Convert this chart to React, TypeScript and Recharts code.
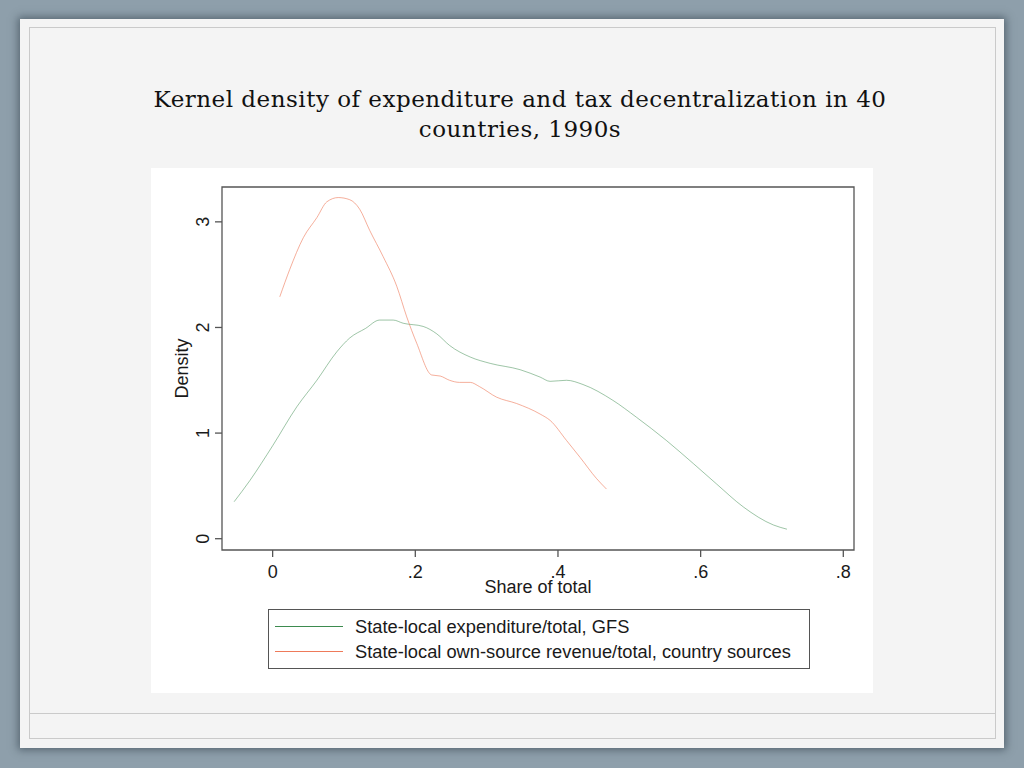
import React from 'react';
import { LineChart, Line, XAxis, YAxis, ReferenceArea, Legend } from 'recharts';

// kernel density estimates
const expX = [-0.054, -0.032, 0.0, 0.034, 0.062, 0.09, 0.108, 0.13, 0.15, 0.169, 0.183, 0.211, 0.23, 0.248, 0.277, 0.305, 0.347, 0.375, 0.389, 0.412, 0.435, 0.477, 0.51, 0.552, 0.59, 0.622, 0.66, 0.702, 0.721];
const expY = [0.35, 0.55, 0.88, 1.25, 1.5, 1.77, 1.9, 1.99, 2.07, 2.07, 2.04, 2.01, 1.94, 1.83, 1.72, 1.66, 1.6, 1.53, 1.49, 1.5, 1.46, 1.31, 1.15, 0.93, 0.71, 0.52, 0.3, 0.13, 0.09];

const revX = [0.01, 0.024, 0.043, 0.062, 0.076, 0.092, 0.108, 0.122, 0.136, 0.155, 0.174, 0.188, 0.202, 0.223, 0.235, 0.248, 0.262, 0.277, 0.29, 0.314, 0.342, 0.375, 0.389, 0.412, 0.431, 0.454, 0.468];
const revY = [2.29, 2.55, 2.85, 3.04, 3.19, 3.23, 3.21, 3.12, 2.92, 2.67, 2.39, 2.1, 1.85, 1.55, 1.54, 1.5, 1.48, 1.48, 1.44, 1.34, 1.28, 1.18, 1.12, 0.93, 0.77, 0.57, 0.47];

const xTicks = [0, 0.2, 0.4, 0.6, 0.8];
const yTicks = [0, 1, 2, 3];

const seriesNames = ['State-local expenditure/total, GFS', 'State-local own-source revenue/total, country sources'];
const COLORS = ['#3d8b4f', '#ee7a5a'];

const X_DOMAIN: [number, number] = [-0.071, 0.815];
const Y_DOMAIN: [number, number] = [-0.107, 3.33];

const SANS = '"Liberation Sans", Arial, sans-serif';
const INK = '#1a1a1a';

const expData = expX.map((x, i) => ({ x, y: expY[i] }));
const revData = revX.map((x, i) => ({ x, y: revY[i] }));

const fmtX = (v: number) => (v === 0 ? '0' : String(v).replace(/^0/, ''));

const YTick = ({ x, y, payload }: any) => (
    <text x={0} y={0} transform={`translate(${x - 6.5},${y}) rotate(-90)`} textAnchor="middle" fontSize={18} fontFamily={SANS} fill={INK}>
        {payload.value}
    </text>
);

const XTitle = ({ viewBox }: any) => (
    <text x={viewBox.x + viewBox.width / 2} y={425} textAnchor="middle" fontSize={18} fontFamily={SANS} fill={INK}>
        Share of total
    </text>
);

const YTitle = ({ viewBox }: any) => (
    <text x={0} y={0} transform={`translate(37,${viewBox.y + viewBox.height / 2}) rotate(-90)`} textAnchor="middle" fontSize={18} fontFamily={SANS} fill={INK}>
        Density
    </text>
);

const LegendBox = () => (
    <div style={{ position: 'relative', width: 542, height: 60, boxSizing: 'border-box', border: '1px solid #555', background: '#fff', fontFamily: SANS, fontSize: 18.3, color: INK }}>
        {seriesNames.map((name, i) => (
            <div key={name} style={{ position: 'absolute', left: 0, top: i === 0 ? 4 : 29, height: 25, width: '100%' }}>
                <svg width={70} height={25} style={{ position: 'absolute', left: 6, top: 0 }}>
                    <line x1={0} x2={68} y1={12.5} y2={12.5} stroke={COLORS[i]} strokeWidth={1.2} />
                </svg>
                <span style={{ position: 'absolute', left: 86, top: 0, lineHeight: '25px', whiteSpace: 'nowrap' }}>{name}</span>
            </div>
        ))}
    </div>
);

const App: React.FC = () => {
    return (
        <div style={{ position: 'absolute', left: 0, top: 0, width: 1024, height: 768, background: '#8e9fab', overflow: 'hidden' }}>
            <div style={{ position: 'absolute', left: 20, top: 19, width: 984, height: 729, background: '#f4f4f4', boxShadow: '0 0 8px 2px rgba(40,55,65,0.55)' }} />
            <div style={{ position: 'absolute', left: 29, top: 27, width: 965, height: 710, border: '1px solid #cacaca' }} />
            <div style={{ position: 'absolute', left: 29, top: 713, width: 967, height: 1, background: '#cacaca' }} />
            <div style={{ position: 'absolute', left: 120, top: 83.5, width: 800, textAlign: 'center', fontFamily: '"DejaVu Serif", serif', fontSize: 23, letterSpacing: 0.5, lineHeight: '30.6px', color: '#111' }}>
                Kernel density of expenditure and tax decentralization in 40
                <br />
                countries, 1990s
            </div>
            <div style={{ position: 'absolute', left: 151, top: 168, width: 722, height: 525, background: '#fff' }}>
                <LineChart width={722} height={525} margin={{ top: 19, right: 19, left: 0, bottom: 0 }}>
                    <XAxis
                        type="number"
                        dataKey="x"
                        domain={X_DOMAIN}
                        ticks={xTicks}
                        allowDataOverflow
                        height={143}
                        axisLine={false}
                        tickSize={7}
                        tickMargin={8}
                        tickLine={{ stroke: '#555', strokeWidth: 1.3 }}
                        tickFormatter={fmtX}
                        tick={{ fontSize: 18, fontFamily: SANS, fill: INK }}
                        label={<XTitle />}
                    />
                    <YAxis
                        type="number"
                        domain={Y_DOMAIN}
                        ticks={yTicks}
                        allowDataOverflow
                        width={71}
                        axisLine={false}
                        tickSize={7}
                        tickMargin={0}
                        tickLine={{ stroke: '#555', strokeWidth: 1.3 }}
                        tick={<YTick />}
                        label={<YTitle />}
                    />
                    <ReferenceArea x1={X_DOMAIN[0]} x2={X_DOMAIN[1]} y1={Y_DOMAIN[0]} y2={Y_DOMAIN[1]} fill="none" stroke="#555" strokeWidth={1.3} />
                    <Line data={expData} dataKey="y" name={seriesNames[0]} type="monotone" stroke={COLORS[0]} strokeOpacity={0.5} strokeWidth={1} dot={false} isAnimationActive={false} />
                    <Line data={revData} dataKey="y" name={seriesNames[1]} type="monotone" stroke={COLORS[1]} strokeOpacity={0.6} strokeWidth={1} dot={false} isAnimationActive={false} />
                    <Legend
                        layout="horizontal"
                        verticalAlign="middle"
                        align="center"
                        content={<LegendBox />}
                        wrapperStyle={{ left: 117, top: 441, width: 542, height: 60 }}
                    />
                </LineChart>
            </div>
        </div>
    );
};

export default App;
